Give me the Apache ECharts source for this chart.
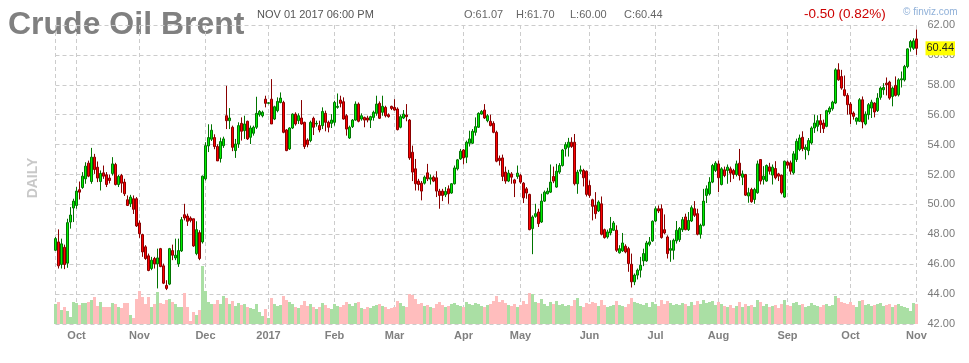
<!DOCTYPE html>
<html><head><meta charset="utf-8">
<script src="https://cdn.jsdelivr.net/npm/echarts@6/dist/echarts.min.js"></script>
<style>html,body{margin:0;padding:0;background:#fff}#c{width:969px;height:363px}</style>
</head><body><div id="c"></div>
<script>
// ---- data ----
const firstDay = '2016-09-22';
const lastDay = '2017-11-01';
const closedDays = ['2016-12-26', '2017-04-14'];
const monthNames = ['Jan','Feb','Mar','Apr','May','Jun','Jul','Aug','Sep','Oct','Nov','Dec'];
const priceTicks = [42, 44, 46, 48, 50, 52, 54, 56, 58, 60, 62];

// [open, close, low, high]
const ohlc = [
[46.93,47.71,46.89,47.82],[47.49,45.89,45.71,48.33],[45.98,47.36,45.71,47.71],[47.13,45.98,45.67,47.31],[46.07,48.78,45.76,49.04],
[48.82,49.29,48.38,49.82],[49.76,50.22,48.82,50.38],[49.93,50.89,49.71,51.16],[50.98,50.82,50.33,51.53],[51.13,51.89,51.04,52.16],
[51.71,52.56,51.38,52.82],[52.76,51.89,51.82,52.93],[51.53,53.16,51.38,53.78],[53.16,52.33,52.04,53.38],[52.49,51.76,51.49,52.87],
[51.53,52.07,50.93,52.27],[52.11,51.89,51.71,52.6],[51.98,51.33,51.16,52.16],[51.76,51.6,51.4,52.0],[52.07,52.71,51.93,53.16],
[52.67,51.33,51.27,52.78],[51.33,51.87,51.16,51.98],[51.93,51.42,50.78,52.04],[51.49,50.71,50.56,51.71],[50.31,49.93,49.89,50.6],
[50.04,50.49,49.82,50.64],[50.38,49.67,49.36,50.6],[50.38,48.56,48.49,50.49],[48.76,48.04,47.76,48.93],[47.98,46.82,46.49,48.04],
[47.16,46.38,46.29,47.27],[46.56,45.58,45.53,46.71],[45.71,46.27,45.6,46.49],[46.38,46.02,45.71,46.49],[46.02,46.42,44.38,47.04],
[47.04,45.84,45.8,47.09],[45.89,44.73,44.67,46.04],[44.58,44.38,44.27,44.93],[44.67,47.04,44.6,47.09],[46.91,46.6,46.27,47.31],
[46.42,46.6,46.27,47.71],[46.02,46.91,45.82,47.71],[46.89,48.98,46.82,49.16],[49.31,49.09,48.93,50.04],[49.22,48.87,48.56,49.38],
[49.09,48.93,48.8,49.2],[49.04,47.22,47.16,49.04],[46.71,48.31,46.6,48.87],[48.11,46.38,46.27,48.27],[47.49,51.89,47.38,51.93],
[51.71,53.93,51.6,54.16],[53.91,54.47,53.5,55.36],[54.36,54.96,54.24,55.36],[54.47,53.87,53.69,54.69],[53.87,52.91,52.91,54.02],
[53.07,54.2,52.8,54.47],[53.93,54.38,53.78,54.53],[55.93,55.6,55.04,57.93],[55.6,55.78,55.04,56.44],[55.16,53.82,53.56,55.27],
[53.6,54.04,53.11,54.38],[54.04,55.27,53.78,55.49],[55.42,54.89,54.27,55.82],[54.93,55.38,54.38,55.93],[55.56,54.38,54.31,55.6],
[54.49,55.11,54.04,55.27],[54.76,55.16,54.6,55.27],[55.16,56.09,55.04,57.2],[56.0,56.22,55.87,56.31],[55.93,56.16,55.82,56.27],
[57.04,56.76,56.49,57.27],[56.76,56.8,56.7,56.84],[57.04,55.38,55.38,58.38],[55.71,56.53,55.64,56.6],[56.27,56.89,56.16,57.16],
[56.82,57.11,56.76,57.49],[56.82,54.82,54.76,56.93],[54.98,53.6,53.56,55.04],[53.71,55.11,53.64,55.16],[55.11,56.04,55.04,56.09],
[56.04,55.38,55.27,56.16],[55.6,55.93,55.38,56.09],[55.78,55.38,55.33,56.98],[55.49,53.87,53.71,55.53],[54.31,54.0,53.82,54.42],
[54.27,55.49,54.16,55.6],[55.76,55.16,54.64,55.87],[55.38,55.42,55.2,55.6],[55.27,54.98,54.82,55.6],[55.27,56.22,55.04,56.49],
[56.09,55.49,54.89,56.27],[55.49,55.16,54.82,55.6],[55.42,55.64,55.11,56.04],[55.49,56.82,55.27,56.93],[56.49,56.56,56.4,57.42],
[56.98,56.76,56.49,57.27],[56.87,55.71,55.67,57.16],[55.93,55.04,54.6,56.04],[54.44,55.16,54.38,55.27],[55.2,55.64,55.11,55.71],
[55.64,56.71,55.6,56.89],[56.71,55.56,55.49,56.82],[55.71,55.93,55.6,56.09],[55.82,55.64,55.16,55.87],[55.78,55.64,55.49,55.93],
[55.64,55.87,55.11,55.93],[55.82,56.16,55.6,56.27],[56.09,56.71,55.93,57.27],[56.76,55.76,55.71,56.89],[56.16,56.56,55.93,57.27],
[56.49,55.93,55.82,56.6],[56.0,55.87,55.8,56.09],[56.56,56.42,56.31,56.6],[56.49,56.31,56.27,57.04],[56.38,55.0,54.95,56.49],
[55.16,55.87,55.09,56.0],[55.78,56.04,55.71,56.31],[55.98,55.87,55.56,56.71],[55.64,53.11,52.98,55.71],[53.49,52.16,51.56,53.93],
[52.38,51.38,50.93,53.04],[51.56,51.33,50.93,51.71],[51.42,50.89,50.27,51.56],[51.42,51.82,51.33,51.93],[52.11,51.71,51.56,52.71],
[51.69,51.78,51.33,52.0],[51.82,51.56,51.49,51.93],[51.78,50.89,50.49,52.22],[50.89,50.6,49.71,51.04],[50.89,50.6,50.22,51.04],
[50.64,50.87,50.49,51.16],[51.04,50.71,50.04,51.27],[50.76,51.38,50.71,51.42],[51.38,52.44,51.33,52.6],[52.38,52.98,52.27,53.04],
[53.04,53.56,52.98,53.71],[53.64,53.11,52.67,53.71],[53.16,54.16,52.76,54.27],[54.09,54.38,53.87,54.93],[54.09,54.89,54.04,55.04],
[54.82,55.2,54.6,55.82],[55.16,56.09,55.11,56.16],[56.04,56.22,56.0,56.31],[56.31,55.78,55.71,56.71],[55.6,55.93,55.49,56.04],
[55.56,55.27,55.22,56.0],[55.42,54.82,54.76,55.56],[54.82,52.89,52.82,54.93],[53.09,52.93,52.6,53.27],[53.11,51.87,51.56,53.33],
[52.16,51.56,51.38,52.53],[51.56,52.09,51.49,52.31],[52.04,51.82,51.38,52.16],[51.64,51.42,50.49,51.71],[51.87,52.09,51.71,52.6],
[51.93,51.49,51.38,52.04],[51.42,50.44,50.09,51.49],[51.04,50.76,50.38,51.16],[50.67,48.31,48.27,50.71],[48.38,49.16,46.67,49.27],
[49.2,49.38,49.11,50.04],[49.49,48.71,48.49,49.71],[48.82,50.22,48.76,50.71],[50.22,50.82,50.16,50.93],[50.71,50.89,50.67,51.11],
[50.82,51.49,50.76,52.67],[51.87,51.56,51.42,52.53],[51.16,52.22,51.11,52.71],[52.16,52.6,52.04,52.76],[52.6,53.64,52.53,53.71],
[53.71,54.0,53.2,54.16],[53.82,54.16,53.2,54.45],[54.16,53.87,53.78,54.49],[54.16,51.38,51.27,54.71],[51.38,52.16,50.71,52.31],
[52.22,52.31,52.04,52.6],[52.27,51.78,51.2,52.38],[52.22,50.67,50.53,52.27],[51.27,50.6,50.44,51.6],[50.31,49.87,48.93,50.38],
[49.93,49.38,49.04,50.82],[49.56,50.16,49.49,50.27],[50.04,48.0,47.93,50.53],[48.31,47.78,47.71,48.38],[47.82,48.16,47.71,48.31],
[48.09,48.38,47.93,49.16],[48.27,48.76,48.22,48.89],[48.27,46.93,46.82,48.6],[46.76,47.04,46.71,47.27],[46.89,47.42,46.82,48.09],
[47.2,46.82,46.73,47.33],[47.04,46.04,45.49,47.16],[46.0,44.82,44.44,46.71],[44.82,45.27,44.6,45.38],[45.27,45.6,44.98,45.71],
[45.6,45.93,45.11,46.49],[46.22,46.71,45.87,47.04],[46.22,47.42,46.16,47.56],[47.33,47.49,47.2,47.82],[47.56,48.87,47.49,48.93],
[48.89,49.71,48.82,49.87],[49.71,49.56,49.42,49.93],[49.71,47.78,47.71,50.0],[48.31,48.09,48.0,49.33],[47.82,46.71,46.38,47.93],
[46.93,47.04,46.16,47.6],[46.93,47.6,46.31,47.71],[47.56,48.27,47.38,48.89],[47.64,48.38,47.49,48.49],[48.31,48.98,48.16,49.16],
[49.16,48.31,48.27,49.38],[48.31,48.93,48.22,49.49],[48.89,49.78,48.82,49.93],[49.71,49.27,49.16,50.22],[49.38,48.0,47.93,49.71],
[48.0,48.6,47.71,48.71],[48.6,50.22,48.53,51.04],[50.6,51.04,50.09,51.27],[50.71,51.49,50.6,51.82],[51.49,52.6,51.42,52.71],
[52.27,52.76,52.16,52.89],[52.71,51.78,50.82,52.93],[51.33,52.38,51.27,52.49],[52.31,51.93,51.82,52.53],[52.27,52.49,51.38,52.67],
[52.38,52.09,51.49,52.53],[52.27,52.0,51.71,52.38],[52.0,52.71,51.87,52.93],[52.76,51.93,51.6,53.71],[51.82,52.04,51.29,52.27],
[52.0,50.62,50.56,52.04],[50.56,50.78,50.11,51.11],[51.0,50.18,50.11,51.11],[50.33,51.0,50.04,51.11],[50.78,52.71,50.71,52.93],
[53.0,51.56,51.33,53.0],[51.67,51.89,51.33,52.56],[51.56,52.6,51.51,52.67],[52.51,52.22,52.0,52.78],[51.96,52.49,51.33,52.67],
[52.4,51.78,51.67,52.89],[52.04,51.89,51.56,52.11],[51.96,50.78,50.67,52.0],[50.49,52.89,50.44,52.93],[52.84,52.62,52.4,52.93],
[52.78,52.22,52.0,52.93],[52.11,53.38,52.0,53.56],[53.0,54.22,52.84,54.4],[53.67,54.44,53.56,54.67],[54.49,53.73,53.56,54.89],
[53.67,53.82,53.0,54.0],[53.6,54.27,53.29,54.44],[54.11,55.11,54.0,55.22],[55.11,55.44,54.78,56.0],[55.22,55.6,54.89,55.96],
[55.6,55.33,54.78,56.04],[55.44,55.07,54.78,55.67],[55.22,56.27,55.16,56.33],[56.18,56.44,56.04,56.56],[56.4,56.84,56.27,56.93],
[56.78,59.0,56.71,59.11],[59.0,58.33,58.27,59.44],[58.56,57.78,57.67,59.0],[57.67,57.29,57.22,58.62],[57.29,56.67,56.0,57.44],
[56.71,56.04,55.38,56.84],[56.11,55.89,55.67,56.22],[55.56,55.78,55.33,55.82],[55.56,57.0,55.51,57.11],[57.0,55.51,55.09,57.22],
[55.38,56.04,55.29,56.22],[56.0,56.67,55.67,56.78],[56.44,56.84,55.78,57.0],[56.78,56.18,55.82,56.84],[56.27,57.11,56.18,57.44],
[57.16,57.78,57.0,57.89],[57.67,57.82,57.33,58.11],[58.11,58.0,57.29,58.49],[58.18,57.11,57.0,58.27],[57.22,57.78,56.56,57.89],
[57.96,57.29,57.22,58.56],[57.33,58.33,57.22,58.44],[58.33,58.4,57.82,58.89],[58.33,59.22,58.22,59.33],[59.22,60.4,59.11,60.44],
[60.51,60.89,60.22,61.0],[60.44,60.94,60.33,61.11],[61.07,60.44,60.0,61.7]
];

// volume (thousand contracts)
const volumes = [
200,220,140,170,130,70,220,210,190,210, 210,220,240,270,180,220,170,170,170,210,
200,170,160,210,210,90,60,250,330,270, 200,270,170,200,320,210,200,240,250,220,
200,170,170,310,170,30,120,90,140,580, 330,220,200,200,240,200,280,
260,200,230,180,210,190,200,170,160,150, 200,120,80,150,60,260,200,180,190,280,
240,220,200,170,160,190,230,180,200,170, 150,170,210,190,160,150,200,180,170,190,
220,200,180,210,220,160,150,170,160,180, 190,200,180,170,150,160,170,230,210,180,
170,300,290,250,200,210,180,190,170,160, 200,220,190,170,180,200,210,190,180,170,
220,200,190,210,200,180,170,190,200,230, 280,220,240,210,190,180,200,170,190,230,
200,310,300,220,210,250,200,180,220,200, 230,190,200,180,190,180,240,260,180,170,
210,200,220,210,180,240,190,170,180,190, 230,190,180,170,200,260,220,210,200,190,
210,170,220,200,180,240,200,230,210,190, 200,190,210,200,180,220,190,230,200,240,
210,220,230,190,220,200,180,170,190,160, 180,220,170,200,180,190,170,240,220,180,
200,170,180,190,160,200,240,190,180,210, 220,190,200,170,180,210,190,180,170,190,
200,180,190,280,260,220,210,200,220,190, 170,230,240,190,200,180,190,200,210,180,
190,200,170,190,200,180,170,160,130,210, 200
];

// ---- trading calendar ----
const dates = [];
(function () {
  let d = new Date(firstDay + 'T00:00:00Z');
  const end = new Date(lastDay + 'T00:00:00Z');
  while (d <= end) {
    const wd = d.getUTCDay();
    const s = d.toISOString().slice(0, 10);
    if (wd !== 0 && wd !== 6 && closedDays.indexOf(s) < 0) dates.push(s);
    d = new Date(d.getTime() + 86400000);
  }
})();
const isMonthStart = dates.map((s, i) => i > 0 && s.slice(0, 7) !== dates[i - 1].slice(0, 7));
function monthLabel(s) {
  const m = +s.slice(5, 7) - 1;
  return m === 0 ? s.slice(0, 4) : monthNames[m];
}

const FONT = 'Arial, "Liberation Sans", sans-serif';
const chart = echarts.init(document.getElementById('c'), null, { renderer: 'canvas' });
const last = ohlc[ohlc.length - 1];

chart.setOption({
  animation: false,
  backgroundColor: '#ffffff',
  grid: { left: 55.5, right: 52.5, top: 25, bottom: 39, containLabel: false },
  xAxis: {
    type: 'category',
    data: dates,
    boundaryGap: false,
    axisLine: { show: false },
    axisTick: { show: false },
    axisLabel: {
      interval: (i) => isMonthStart[i],
      formatter: (v) => monthLabel(v),
      color: '#808080', fontSize: 11, fontWeight: 'bold', fontFamily: FONT, margin: 6
    },
    splitLine: {
      show: true,
      interval: (i) => i === 0 || isMonthStart[i],
      lineStyle: { color: '#cccccc', type: [4, 3], width: 1 }
    }
  },
  yAxis: [{
    type: 'value', min: priceTicks[0], max: priceTicks[priceTicks.length - 1], interval: 2,
    position: 'right',
    axisLine: { show: false }, axisTick: { show: false },
    axisLabel: { formatter: (v) => v.toFixed(2), color: '#7a7a7a', fontSize: 11, fontFamily: FONT, margin: 11 },
    splitLine: { show: true, lineStyle: { color: '#cccccc', type: [4, 3], width: 1 } }
  }, {
    type: 'value', min: 0, max: 2990, show: false, splitLine: { show: false }
  }],
  series: [{
    type: 'bar',
    yAxisIndex: 1,
    barWidth: 3,
    clip: false,
    silent: true,
    z: 1,
    data: volumes.map((v, i) => ({
      value: v,
      itemStyle: { color: ohlc[i][1] >= ohlc[i][0] ? '#aadfa4' : '#ffbdbd' }
    }))
  }, {
    type: 'candlestick',
    data: ohlc,
    barWidth: 2,
    clip: false,
    silent: true,
    z: 3,
    itemStyle: {
      color: '#00ee00', color0: '#ff0000',
      borderColor: '#007400', borderColor0: '#880000', borderWidth: 1
    },
    markLine: {
      silent: true,
      symbol: ['none', 'none'],
      lineStyle: { color: 'rgba(0,0,0,0)', width: 0 },
      label: {
        show: true, position: 'end', distance: 9,
        formatter: () => last[1].toFixed(2),
        backgroundColor: '#ffff00', color: '#222222',
        fontSize: 11, fontFamily: FONT, padding: [2, 1, 1, 1]
      },
      data: [{ yAxis: last[1] }]
    }
  }],
  graphic: [
    { type: 'text', x: 8, y: 25, silent: true,
      style: { text: 'Crude Oil Brent', font: 'bold 32px ' + FONT, fill: '#808080', textAlign: 'left', textVerticalAlign: 'middle', align: 'left', verticalAlign: 'middle' } },
    { type: 'text', x: 257, y: 14.5, silent: true,
      style: { text: 'NOV 01 2017 06:00 PM', font: '11px ' + FONT, fill: '#555555', textVerticalAlign: 'middle', verticalAlign: 'middle' } },
    { type: 'text', x: 464, y: 15, silent: true,
      style: { text: 'O:61.07', font: '11px ' + FONT, fill: '#666666', textVerticalAlign: 'middle', verticalAlign: 'middle' } },
    { type: 'text', x: 516, y: 15, silent: true,
      style: { text: 'H:61.70', font: '11px ' + FONT, fill: '#666666', textVerticalAlign: 'middle', verticalAlign: 'middle' } },
    { type: 'text', x: 570, y: 15, silent: true,
      style: { text: 'L:60.00', font: '11px ' + FONT, fill: '#666666', textVerticalAlign: 'middle', verticalAlign: 'middle' } },
    { type: 'text', x: 624, y: 15, silent: true,
      style: { text: 'C:60.44', font: '11px ' + FONT, fill: '#666666', textVerticalAlign: 'middle', verticalAlign: 'middle' } },
    { type: 'text', x: 804, y: 14, silent: true,
      style: { text: '-0.50 (0.82%)', font: '13.5px ' + FONT, fill: '#cc0000', textVerticalAlign: 'middle', verticalAlign: 'middle' } },
    { type: 'text', x: 903, y: 12.5, silent: true,
      style: { text: '© finviz.com', font: '10px ' + FONT, fill: '#8fb0d8', textVerticalAlign: 'middle', verticalAlign: 'middle' } },
    { type: 'text', x: 33, y: 178, rotation: Math.PI / 2, silent: true,
      style: { text: 'DAILY', font: 'bold 14px ' + FONT, fill: '#c8c8c8', textAlign: 'center', textVerticalAlign: 'middle', align: 'center', verticalAlign: 'middle' } }
  ]
});
</script>
</body></html>
